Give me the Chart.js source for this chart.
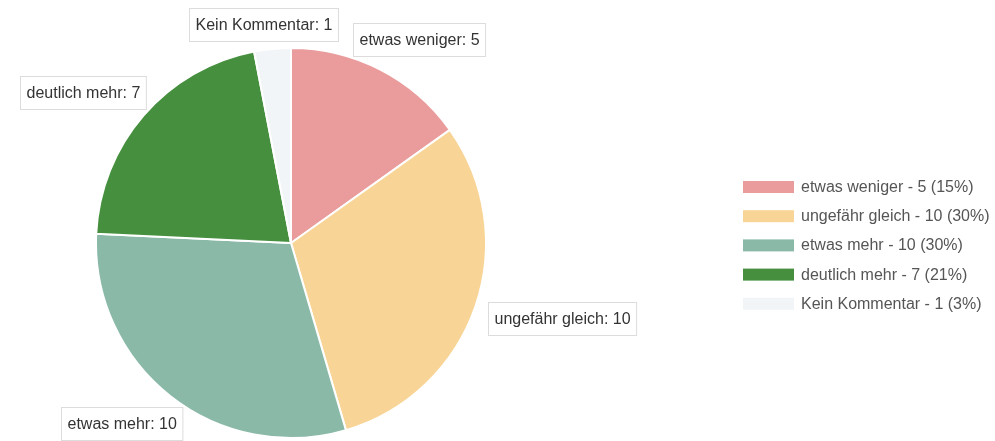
<!DOCTYPE html>
<html>
<head>
<meta charset="utf-8">
<script src="https://cdn.jsdelivr.net/npm/chart.js@4"></script>
<style>
    body { margin: 0; background: #fff; }
    #wrap { width: 995px; height: 441px; }
</style>
</head>
<body>
<div id="wrap"><canvas id="pie" width="995" height="441"></canvas></div>
<script>
const labels = ['etwas weniger', 'ungefähr gleich', 'etwas mehr', 'deutlich mehr', 'Kein Kommentar'];
const counts = [5, 10, 10, 7, 1];
const colors = ['#EA9B9C', '#F8D596', '#8AB9A8', '#458F3E', '#F2F5F7'];

const FONT = '16px "Liberation Sans", Arial, sans-serif';

const total = counts.reduce((a, b) => a + b, 0);

// boxed labels outside each slice
const sliceLabels = {
    id: 'sliceLabels',
    afterDatasetsDraw(chart) {
        const ctx = chart.ctx;
        const meta = chart.getDatasetMeta(0);
        ctx.save();
        ctx.font = FONT;
        ctx.textBaseline = 'middle';
        ctx.textAlign = 'center';
        meta.data.forEach((arc, i) => {
            const p = arc.getProps(['x', 'y', 'startAngle', 'endAngle', 'outerRadius'], true);
            const mid = (p.startAngle + p.endAngle) / 2;
            const cos = Math.cos(mid), sin = Math.sin(mid);
            const text = labels[i] + ': ' + counts[i];
            const w = ctx.measureText(text).width + 12;
            const h = 33;
            const ax = p.x + cos * (p.outerRadius + 18);
            const ay = p.y + sin * (p.outerRadius + 18);
            let cx = ax + cos * w / 2;
            let cy = ay + sin * h / 2;
            cy = Math.max(8 + h / 2, Math.min(chart.height - 1 - h / 2, cy));
            cx = Math.max(8 + w / 2, cx);
            const bx = Math.round(cx - w / 2) + 0.5, by = Math.round(cy - h / 2) + 0.5;
            ctx.fillStyle = '#fff';
            ctx.strokeStyle = '#dcdcdc';
            ctx.lineWidth = 1;
            ctx.fillRect(bx, by, w, h);
            ctx.strokeRect(bx, by, w, h);
            ctx.fillStyle = '#333';
            ctx.fillText(text, bx + w / 2, by + h / 2 + 1);
        });
        ctx.restore();
    }
};

// legend on the right side
const sideLegend = {
    id: 'sideLegend',
    afterDraw(chart) {
        const ctx = chart.ctx;
        const left = 743, top = 181, pitch = 29.2;
        ctx.save();
        ctx.font = FONT;
        ctx.textBaseline = 'middle';
        ctx.textAlign = 'left';
        labels.forEach((lab, i) => {
            const y = top + i * pitch;
            ctx.fillStyle = colors[i];
            ctx.fillRect(left, y, 51, 12);
            const pct = Math.round(counts[i] / total * 100);
            ctx.fillStyle = '#555';
            ctx.fillText(lab + ' - ' + counts[i] + ' (' + pct + '%)', left + 58, y + 6.5);
        });
        ctx.restore();
    }
};

new Chart(document.getElementById('pie'), {
    type: 'pie',
    data: {
        labels: labels,
        datasets: [{
            data: counts,
            backgroundColor: colors,
            borderColor: '#fff',
            borderWidth: 2
        }]
    },
    options: {
        responsive: false,
        animation: false,
        events: [],
        layout: {
            padding: { top: 47, bottom: 2, left: 0, right: 413 }
        },
        plugins: {
            legend: { display: false },
            tooltip: { enabled: false }
        }
    },
    plugins: [sliceLabels, sideLegend]
});
</script>
</body>
</html>
